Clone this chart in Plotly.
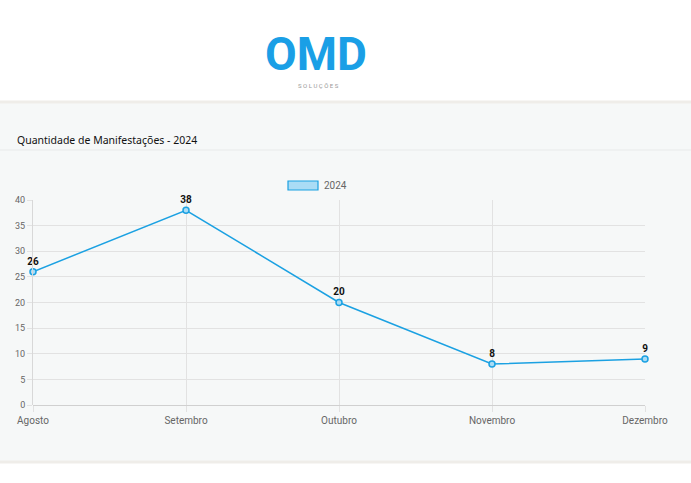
import plotly.graph_objects as go

# -----------------------------------
# Data
# -----------------------------------
months = ["Agosto", "Setembro", "Outubro", "Novembro", "Dezembro"]
values_2024 = [26, 38, 20, 8, 9]
y_ticks = [0, 5, 10, 15, 20, 25, 30, 35, 40]

LINE_BLUE = "#1ba1e2"
FILL_BLUE = "#aadcf5"
CARD_BG = "#f6f8f8"

# plot area in pixels (used to convert decoration positions to paper coords)
W, H = 691, 483
PL, PR, PT, PB = 33, 645, 200, 405


def px(x):
    return (x - PL) / (PR - PL)


def py(y):
    return (PB - y) / (PB - PT)


fig = go.Figure()

fig.add_trace(go.Scatter(
    x=list(range(len(months))), y=values_2024,
    mode="lines+markers+text",
    text=[str(v) for v in values_2024],
    textposition="top center",
    textfont=dict(family="Roboto, Arial", size=10, color="#111111"),
    texttemplate="<b>%{text}</b>",
    line=dict(color=LINE_BLUE, width=1.5),
    marker=dict(size=6, color=FILL_BLUE, line=dict(color=LINE_BLUE, width=1.5)),
    cliponaxis=False,
    showlegend=False,
    hoverinfo="skip",
))

shapes = [
    # card
    dict(type="rect", xref="paper", yref="paper", layer="below",
         x0=px(-5), x1=px(700), y0=py(462), y1=py(102),
         fillcolor=CARD_BG, line=dict(color="#efede9", width=3)),
    # header separator
    dict(type="line", xref="paper", yref="paper", layer="below",
         x0=px(0), x1=px(691), y0=py(150), y1=py(150),
         line=dict(color="#e8eaea", width=1)),
    # legend swatch
    dict(type="rect", xref="paper", yref="paper",
         x0=px(288), x1=px(318), y0=py(190), y1=py(181),
         fillcolor=FILL_BLUE, line=dict(color=LINE_BLUE, width=1.2)),
]

annotations = [
    dict(text="<b>OMD</b>", xref="paper", yref="paper", x=px(316), y=py(54),
         showarrow=False, font=dict(family="Roboto, Arial", size=46, color="#1a9fe6"),
         xanchor="center", yanchor="middle"),
    dict(text="S O L U Ç Õ E S", xref="paper", yref="paper", x=px(318), y=py(86),
         showarrow=False, font=dict(family="Roboto, Arial", size=6, color="#999999"),
         xanchor="center", yanchor="middle"),
    dict(text="Quantidade de Manifestações - 2024", xref="paper", yref="paper",
         x=px(15), y=py(140), showarrow=False, xanchor="left", yanchor="middle",
         font=dict(family="Noto Sans, Open Sans", size=10.5, color="#111111")),
    dict(text="2024", xref="paper", yref="paper", x=px(322), y=py(185.5),
         showarrow=False, xanchor="left", yanchor="middle",
         font=dict(family="Roboto, Arial", size=10, color="#666666")),
]

fig.update_layout(
    width=W, height=H,
    margin=dict(l=PL, r=W - PR, t=PT, b=H - PB),
    paper_bgcolor="white",
    plot_bgcolor="rgba(0,0,0,0)",
    shapes=shapes,
    annotations=annotations,
    xaxis=dict(
        range=[0, len(months) - 1],
        tickvals=list(range(len(months))), ticktext=months,
        showgrid=True, gridcolor="#e2e2e2", gridwidth=1,
        zeroline=False, showline=False,
        ticks="outside", ticklen=6, tickcolor="#e2e2e2",
        tickfont=dict(family="Roboto, Arial", size=10, color="#666666"),
        fixedrange=True,
    ),
    yaxis=dict(
        range=[0, 40], tickvals=y_ticks,
        showgrid=True, gridcolor="#e2e2e2", gridwidth=1,
        zeroline=True, zerolinecolor="#d0d0d0", zerolinewidth=1,
        showline=True, linecolor="#d8d8d8", linewidth=1,
        ticks="outside", ticklen=5, tickcolor="#e2e2e2",
        tickfont=dict(family="Roboto, Arial", size=9, color="#666666"),
        fixedrange=True,
    ),
)

# remove the default page margin so the figure sits at the window's corner
fig.write_html("out.html", config={"displayModeBar": False},
               post_script="document.body.style.margin='0';")
